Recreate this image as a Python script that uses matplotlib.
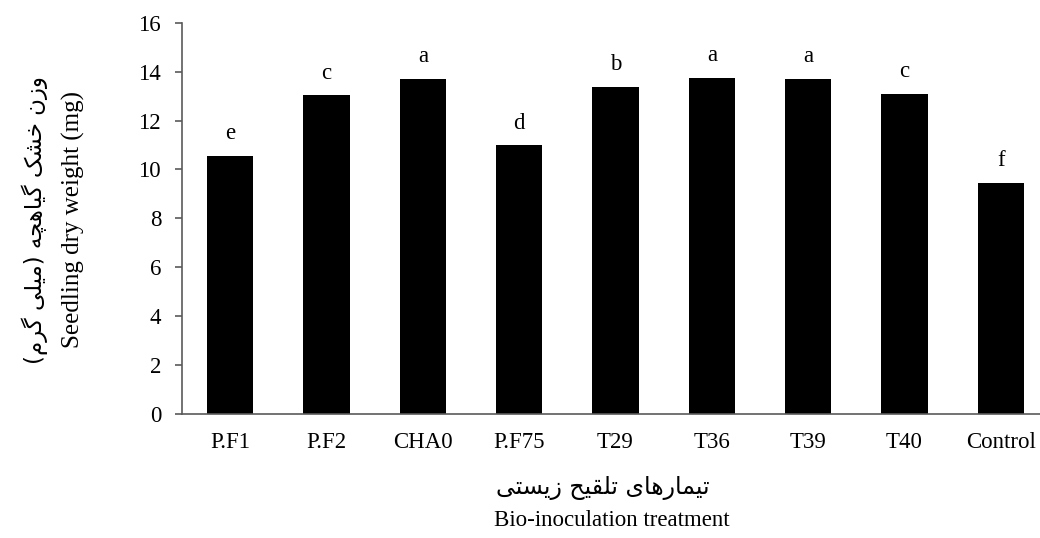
import matplotlib
matplotlib.use('Agg')
from matplotlib import pyplot as plt
import numpy as np

# data
treatments = ['P.F1', 'P.F2', 'CHA0', 'P.F75', 'T29', 'T36', 'T39', 'T40', 'Control']
dry_weight = [10.55, 13.04, 13.70, 10.99, 13.39, 13.76, 13.70, 13.09, 9.46]
groups = ['e', 'c', 'a', 'd', 'b', 'a', 'a', 'c', 'f']

ylabel_fa = 'وزن خشک گیاهچه (میلی گرم)'
ylabel_en = 'Seedling dry weight (mg)'
xlabel_fa = 'تیمارهای تلقیح زیستی'
xlabel_en = 'Bio-inoculation treatment'

# Arabic/Persian presentation forms: isolated, final, initial, medial
FORMS = {
    'ا': ('\uFE8D', '\uFE8E'), 'آ': ('\uFE81', '\uFE82'),
    'د': ('\uFEA9', '\uFEAA'), 'ذ': ('\uFEAB', '\uFEAC'),
    'ر': ('\uFEAD', '\uFEAE'), 'ز': ('\uFEAF', '\uFEB0'),
    'و': ('\uFEED', '\uFEEE'),
    'ب': ('\uFE8F', '\uFE90', '\uFE91', '\uFE92'),
    'ت': ('\uFE95', '\uFE96', '\uFE97', '\uFE98'),
    'ج': ('\uFE9D', '\uFE9E', '\uFE9F', '\uFEA0'),
    'ح': ('\uFEA1', '\uFEA2', '\uFEA3', '\uFEA4'),
    'خ': ('\uFEA5', '\uFEA6', '\uFEA7', '\uFEA8'),
    'س': ('\uFEB1', '\uFEB2', '\uFEB3', '\uFEB4'),
    'ش': ('\uFEB5', '\uFEB6', '\uFEB7', '\uFEB8'),
    'ق': ('\uFED5', '\uFED6', '\uFED7', '\uFED8'),
    'ل': ('\uFEDD', '\uFEDE', '\uFEDF', '\uFEE0'),
    'م': ('\uFEE1', '\uFEE2', '\uFEE3', '\uFEE4'),
    'ن': ('\uFEE5', '\uFEE6', '\uFEE7', '\uFEE8'),
    'ه': ('\uFEE9', '\uFEEA', '\uFEEB', '\uFEEC'),
    'ک': ('\uFB8E', '\uFB8F', '\uFB90', '\uFB91'),
    'گ': ('\uFB92', '\uFB93', '\uFB94', '\uFB95'),
    'چ': ('\uFB7A', '\uFB7B', '\uFB7C', '\uFB7D'),
    'ی': ('\uFBFC', '\uFBFD', '\uFBFE', '\uFBFF'),
}


# shape Persian letters and put them in visual (left to right) order
def persian(text):
    out = []
    for i, ch in enumerate(text):
        if ch not in FORMS:
            out.append(ch)
            continue
        prev = text[i - 1] if i > 0 else ''
        nxt = text[i + 1] if i + 1 < len(text) else ''
        join_prev = prev in FORMS and len(FORMS[prev]) == 4
        join_next = len(FORMS[ch]) == 4 and nxt in FORMS
        f = FORMS[ch]
        if join_prev and join_next:
            out.append(f[3])
        elif join_prev:
            out.append(f[1])
        elif join_next:
            out.append(f[2])
        else:
            out.append(f[0])
    vis = ''.join(reversed(out))
    return vis.translate(str.maketrans('()', ')('))


serif = ['Liberation Serif', 'DejaVu Serif']
fa_font = ['DejaVu Sans']
plt.rcParams['font.family'] = serif

fig = plt.figure(figsize=(10.4, 5.38), dpi=100)
ax = fig.add_axes([182 / 1040, 1 - 413.5 / 538, 867 / 1040, 390.5 / 538])

x_loc = np.arange(len(treatments))
bars = ax.bar(x_loc, dry_weight, width=0.48, color='black')

for bar, g in zip(bars, groups):
    ax.annotate(g, (bar.get_x() + bar.get_width() / 2, bar.get_height()),
                xytext=(0, 12), textcoords='offset points',
                ha='center', va='baseline', fontsize=16.5)

ax.set_xlim(-0.5, 8.5)
ax.set_ylim(0, 16)
ax.set_yticks(np.arange(0, 17, 2))
ax.set_xticks(x_loc)
ax.set_xticklabels(treatments)

for side in ['top', 'right']:
    ax.spines[side].set_visible(False)
for side in ['left', 'bottom']:
    ax.spines[side].set_color('#5a5a5a')
    ax.spines[side].set_linewidth(1.2)

ax.tick_params(axis='y', length=5, width=1.2, color='#5a5a5a', pad=10, labelsize=16.5)
ax.tick_params(axis='x', length=0, pad=13, labelsize=16.5)

fig.text(35 / 1040, 1 - 220 / 538, persian(ylabel_fa), rotation=90,
         ha='center', va='center', fontsize=16.5, family=fa_font)
fig.text(73 / 1040, 1 - 220 / 538, ylabel_en, rotation=90,
         ha='center', va='center', fontsize=18)
fig.text(603 / 1040, 1 - 488 / 538, persian(xlabel_fa),
         ha='center', va='center', fontsize=17, family=fa_font)
fig.text(612 / 1040, 1 - 521 / 538, xlabel_en,
         ha='center', va='center', fontsize=16.5)

plt.savefig('out.png', dpi=100)
